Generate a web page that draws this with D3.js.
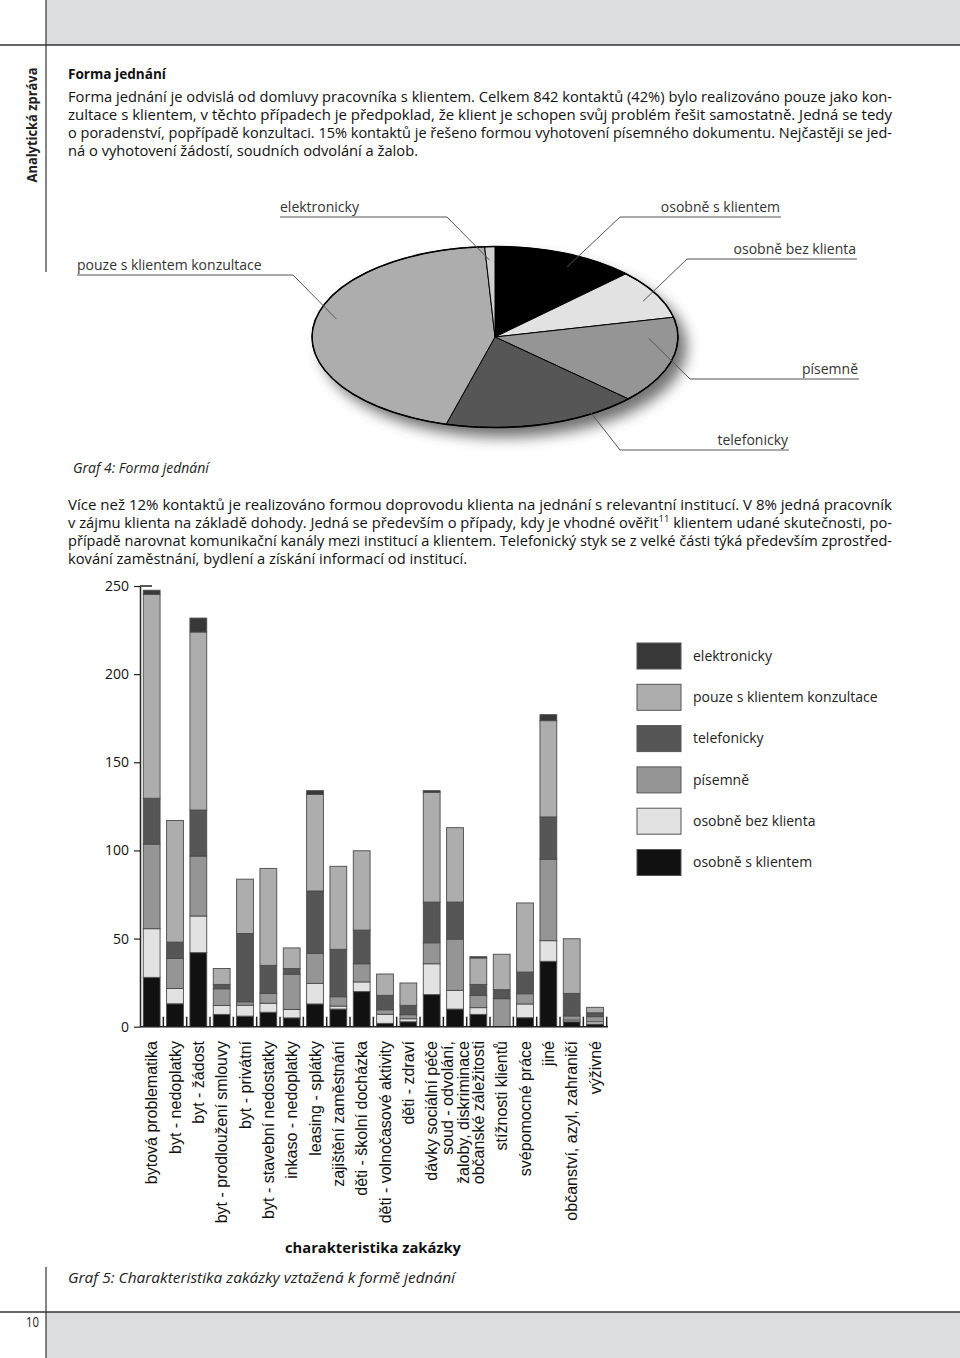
<!DOCTYPE html>
<html>
<head>
<meta charset="utf-8">
<script src="https://cdn.jsdelivr.net/npm/d3@7"></script>
<style>
body { margin: 0; background: #fff; }
svg { display: block; font-family: "Open Sans", sans-serif; }
</style>
</head>
<body>
<svg id="page" width="960" height="1358"></svg>
<script>
// Graf 4 - forma jednání (podíl v %)
const pieNames = ["osobně s klientem", "osobně bez klienta", "písemně", "telefonicky", "pouze s klientem konzultace", "elektronicky"];
const pieValues = [12.7, 8.8, 15.5, 17.3, 44.8, 0.9];

// Graf 5 - charakteristika zakázky
const categories = ["bytová problematika", "byt - nedoplatky", "byt - žádost", "byt - prodloužení smlouvy", "byt - privátní",
    "byt - stavební nedostatky", "inkaso - nedoplatky", "leasing - splátky", "zajištění zaměstnání", "děti - školní docházka",
    "děti - volnočasové aktivity", "děti - zdraví", "dávky sociální péče", "soud - odvolání,\nžaloby, diskriminace",
    "občanské záležitosti", "stížnosti klientů", "svépomocné práce", "jiné", "občanství, azyl, zahraničí", "výživné"];
const osobneSKlientem = [28, 13, 42, 7, 6, 8.2, 5, 12.9, 10, 19.9, 1.9, 2.8, 18.2, 10, 7, 0, 5.1, 37.1, 2.8, 1.5];
const osobneBezKlienta = [27.6, 8.7, 20.8, 5, 6.2, 5.1, 4.8, 11.7, 1.7, 5.5, 5.1, 1.7, 17.5, 10.6, 3.8, 0, 7.8, 11.7, 1, 1.3];
const pisemne = [48, 17, 34, 9.5, 1.9, 5.6, 20, 17, 5.3, 10.3, 2.6, 2.3, 11.9, 29.1, 7, 15.9, 5.8, 46.2, 2.3, 2.9];
const telefonicky = [26, 9.3, 26.1, 2.5, 38.8, 15.9, 3.2, 35.4, 26.9, 19.1, 8.2, 5.3, 23.1, 21, 6.2, 5.1, 12.3, 24, 12.8, 2.2];
const konzultace = [115.7, 69, 101, 9, 30.8, 55, 11.7, 54.8, 47.1, 45, 12.1, 12.7, 62.3, 42.2, 15, 20.1, 39.2, 54.6, 31, 3.1];
const elektronicky = [2.3, 0, 7.9, 0, 0, 0, 0, 2.1, 0, 0, 0, 0, 0.9, 0, 0.7, 0, 0, 3.4, 0, 0];
const yTicks = [0, 50, 100, 150, 200, 250];

const seriesKeys = ["osobně s klientem", "osobně bez klienta", "písemně", "telefonicky", "pouze s klientem konzultace", "elektronicky"];
const seriesValues = [osobneSKlientem, osobneBezKlienta, pisemne, telefonicky, konzultace, elektronicky];
const legendOrder = ["elektronicky", "pouze s klientem konzultace", "telefonicky", "písemně", "osobně bez klienta", "osobně s klientem"];

const colors = {
    "osobně s klientem": "#111111",
    "osobně bez klienta": "#e2e2e2",
    "písemně": "#959595",
    "telefonicky": "#565656",
    "pouze s klientem konzultace": "#adadad",
    "elektronicky": "#383838"
};
const pieColors = Object.assign({}, colors, { "osobně s klientem": "#000", "elektronicky": "#cfcfcf" });

const para1 = [
    "Forma jednání je odvislá od domluvy pracovníka s klientem. Celkem 842 kontaktů (42%) bylo realizováno pouze jako kon-",
    "zultace s klientem, v těchto případech je předpoklad, že klient je schopen svůj problém řešit samostatně. Jedná se tedy",
    "o poradenství, popřípadě konzultaci. 15% kontaktů je řešeno formou vyhotovení písemného dokumentu. Nejčastěji se jed-",
    "ná o vyhotovení žádostí, soudních odvolání a žalob."
];
const para2 = [
    "Více než 12% kontaktů je realizováno formou doprovodu klienta na jednání s relevantní institucí. V 8% jedná pracovník",
    "v zájmu klienta na základě dohody. Jedná se především o případy, kdy je vhodné ověřit|11| klientem udané skutečnosti, po-",
    "případě narovnat komunikační kanály mezi institucí a klientem. Telefonický styk se z velké části týká především zprostřed-",
    "kování zaměstnání, bydlení a získání informací od institucí."
];

const svg = d3.select("#page");

// page frame
svg.append("rect").attr("x", 46).attr("y", 0).attr("width", 914).attr("height", 45).attr("fill", "#dcdddf");
svg.append("rect").attr("x", 46).attr("y", 1312).attr("width", 914).attr("height", 46).attr("fill", "#dcdddf");
svg.append("line").attr("x1", 0).attr("x2", 960).attr("y1", 45).attr("y2", 45).attr("stroke", "#333").attr("stroke-width", 1.5);
svg.append("line").attr("x1", 0).attr("x2", 960).attr("y1", 1312).attr("y2", 1312).attr("stroke", "#333").attr("stroke-width", 1.5);
svg.append("line").attr("x1", 46).attr("x2", 46).attr("y1", 0).attr("y2", 272).attr("stroke", "#333").attr("stroke-width", 1.2);
svg.append("line").attr("x1", 46).attr("x2", 46).attr("y1", 1267).attr("y2", 1358).attr("stroke", "#333").attr("stroke-width", 1.2);

svg.append("text")
    .attr("transform", "translate(37,125) rotate(-90)")
    .attr("text-anchor", "middle")
    .attr("font-size", 14).attr("font-weight", 700)
    .attr("textLength", 115).attr("lengthAdjust", "spacingAndGlyphs")
    .attr("fill", "#222")
    .text("Analytická zpráva");

svg.append("text").attr("x", 26).attr("y", 1327).attr("font-size", 14)
    .attr("textLength", 13).attr("lengthAdjust", "spacingAndGlyphs").attr("fill", "#222").text("10");

// heading + paragraphs
svg.append("text").attr("x", 68).attr("y", 79).attr("font-size", 14).attr("font-weight", 700)
    .attr("textLength", 98).attr("lengthAdjust", "spacingAndGlyphs").attr("fill", "#111").text("Forma jednání");

function paragraph(lines, top, lastWidth) {
    lines.forEach((line, i) => {
        const t = svg.append("text")
            .attr("x", 68).attr("y", top + i * 18)
            .attr("font-size", 14).attr("fill", "#111")
            .attr("textLength", i === lines.length - 1 ? lastWidth : 824)
            .attr("lengthAdjust", "spacingAndGlyphs");
        line.split("|").forEach((part, j) => {
            const s = t.append("tspan").text(part);
            if (j === 1) s.attr("font-size", 9).attr("dy", -6);
            if (j === 2) s.attr("dy", 6);
        });
    });
}
paragraph(para1, 102, 350);
paragraph(para2, 510, 399);

// ---- pie ----
const cx = 495, cy = 337, rx = 183, ry = 90.5;
const defs = svg.append("defs");
defs.append("filter").attr("id", "blur").attr("x", "-30%").attr("y", "-30%").attr("width", "160%").attr("height", "170%")
    .append("feGaussianBlur").attr("stdDeviation", 7);

svg.append("ellipse").attr("cx", cx + 9).attr("cy", cy + 10).attr("rx", rx).attr("ry", ry)
    .attr("fill", "#444").attr("opacity", 0.75).attr("filter", "url(#blur)");

const pieG = svg.append("g").attr("transform", `translate(${cx},${cy}) scale(1,${ry / rx})`);
const pie = d3.pie().sort(null).value(d => d.value);
const arc = d3.arc().innerRadius(0).outerRadius(rx);
const pieData = pie(pieNames.map((n, i) => ({ name: n, value: pieValues[i] })));

pieG.selectAll("path")
    .data(pieData)
    .join("path")
    .attr("d", arc)
    .attr("fill", d => pieColors[d.data.name])
    .attr("stroke", "#000")
    .attr("stroke-width", 1)
    .attr("vector-effect", "non-scaling-stroke");
pieG.append("circle").attr("r", rx).attr("fill", "none").attr("stroke", "#000")
    .attr("stroke-width", 1.5).attr("vector-effect", "non-scaling-stroke");

// label placement (layout only)
const pieLabelLayout = {
    "osobně s klientem": { tx: 780, ty: 212, anchor: "end", ux1: 620, ux2: 781, uy: 217, tipA: 27, tipR: 0.87 },
    "osobně bez klienta": { tx: 856, ty: 254, anchor: "end", ux1: 687, ux2: 857, uy: 259, tipA: 64, tipR: 0.9 },
    "písemně": { tx: 858, ty: 374, anchor: "end", ux1: 690, ux2: 859, uy: 379, tipA: 91, tipR: 0.84 },
    "telefonicky": { tx: 788, ty: 445, anchor: "end", ux1: 620, ux2: 789, uy: 450, tipA: 147, tipR: 0.91 },
    "pouze s klientem konzultace": { tx: 77, ty: 270, anchor: "start", ux1: 77, ux2: 293, uy: 275, tipA: 283, tipR: 0.89 },
    "elektronicky": { tx: 280, ty: 212, anchor: "start", ux1: 280, ux2: 447, uy: 217, tipA: 358, tipR: 0.85 }
};

pieNames.forEach(name => {
    const L = pieLabelLayout[name];
    const a = L.tipA * Math.PI / 180;
    const tipX = cx + L.tipR * rx * Math.sin(a);
    const tipY = cy - L.tipR * ry * Math.cos(a);
    const startX = L.anchor === "end" ? L.ux1 : L.ux2;
    svg.append("polyline")
        .attr("points", `${L.anchor === "end" ? L.ux2 : L.ux1},${L.uy} ${startX},${L.uy} ${tipX},${tipY}`)
        .attr("fill", "none").attr("stroke", "#555").attr("stroke-width", 1);
    svg.append("text").attr("x", L.tx).attr("y", L.ty).attr("text-anchor", L.anchor)
        .attr("font-size", 14).attr("fill", "#333").text(name);
});

svg.append("text").attr("x", 73).attr("y", 473).attr("font-size", 14).attr("font-style", "italic")
    .attr("fill", "#222").text("Graf 4: Forma jednání");

// ---- stacked bars ----
const table = categories.map((c, i) => {
    const row = { category: c };
    seriesKeys.forEach((k, j) => { row[k] = seriesValues[j][i]; });
    return row;
});
const stacked = d3.stack().keys(seriesKeys)(table);

const x = d3.scaleBand().domain(categories).range([140, 606.7]).paddingInner(0.28).paddingOuter(0.14);
const y = d3.scaleLinear().domain([0, 250]).range([1026.7, 586]);

svg.append("g")
    .selectAll("g")
    .data(stacked)
    .join("g")
    .attr("fill", d => colors[d.key])
    .selectAll("rect")
    .data(d => d.filter(s => s[1] - s[0] > 0))
    .join("rect")
    .attr("x", d => x(d.data.category))
    .attr("width", x.bandwidth())
    .attr("y", d => y(d[1]))
    .attr("height", d => y(d[0]) - y(d[1]))
    .attr("stroke", "#4a4a4a")
    .attr("stroke-width", 0.9);

// y axis
const yAxis = svg.append("g").attr("transform", "translate(140,0)")
    .call(d3.axisLeft(y).tickValues(yTicks).tickSize(6).tickPadding(5).tickSizeOuter(0));
yAxis.select(".domain").attr("stroke", "#222").attr("stroke-width", 1.5);
yAxis.selectAll(".tick line").attr("stroke", "#222").attr("stroke-width", 1.2);
yAxis.selectAll(".tick text").attr("font-family", "Open Sans, sans-serif").attr("font-size", 14).attr("fill", "#111");
svg.append("line").attr("x1", 140).attr("x2", 152).attr("y1", y(250)).attr("y2", y(250))
    .attr("stroke", "#222").attr("stroke-width", 1.5);

// x axis line + separators
svg.append("line").attr("x1", 140).attr("x2", 608).attr("y1", y(0)).attr("y2", y(0))
    .attr("stroke", "#222").attr("stroke-width", 1.5);
svg.append("g").selectAll("line")
    .data(categories)
    .join("line")
    .attr("x1", d => x(d) + x.step() - x.step() * 0.14)
    .attr("x2", d => x(d) + x.step() - x.step() * 0.14)
    .attr("y1", y(0)).attr("y2", y(0) - 10)
    .attr("stroke", "#222").attr("stroke-width", 1.5);

// category labels
svg.append("g").selectAll("text")
    .data(categories)
    .join("text")
    .attr("transform", d => `translate(${x(d) + x.bandwidth() / 2},1041) rotate(-90)`)
    .attr("text-anchor", "end")
    .attr("font-family", "Liberation Sans, Arial, sans-serif")
    .attr("font-size", 16)
    .attr("fill", "#111")
    .each(function (d) {
        const parts = d.split("\n");
        const t = d3.select(this);
        parts.forEach((p, i) => {
            t.append("tspan").attr("x", 0)
                .attr("y", (i - (parts.length - 1) / 2) * 16)
                .attr("dy", "0.35em")
                .text(p);
        });
    });

svg.append("text").attr("x", 373).attr("y", 1253).attr("text-anchor", "middle")
    .attr("font-size", 14).attr("font-weight", 700).attr("textLength", 176).attr("lengthAdjust", "spacingAndGlyphs")
    .attr("fill", "#111").text("charakteristika zakázky");

svg.append("text").attr("x", 68).attr("y", 1283).attr("font-size", 14).attr("font-style", "italic")
    .attr("textLength", 387).attr("lengthAdjust", "spacingAndGlyphs")
    .attr("fill", "#222").text("Graf 5: Charakteristika zakázky vztažená k formě jednání");

// legend
const legend = svg.append("g").selectAll("g")
    .data(legendOrder)
    .join("g")
    .attr("transform", (d, i) => `translate(637,${643 + i * 41.3})`);
legend.append("rect").attr("width", 44).attr("height", 26)
    .attr("fill", d => colors[d]).attr("stroke", "#555").attr("stroke-width", 1);
legend.append("text").attr("x", 56).attr("y", 13).attr("dy", "0.35em")
    .attr("font-size", 14).attr("fill", "#222").text(d => d);
</script>
</body>
</html>
